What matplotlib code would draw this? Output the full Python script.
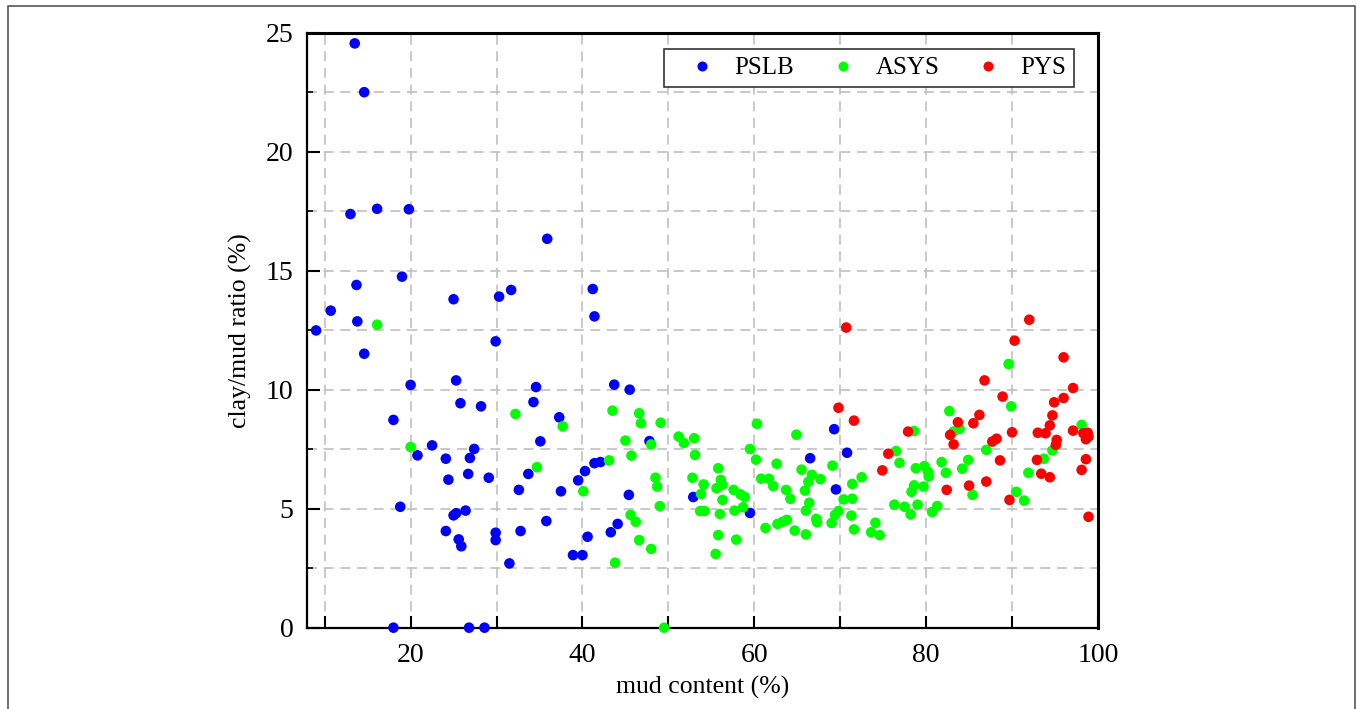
import matplotlib
matplotlib.use('Agg')
import matplotlib.pyplot as plt
from matplotlib.lines import Line2D
from matplotlib.ticker import MultipleLocator, FixedLocator, FuncFormatter

# PSLB samples (mud content %, clay/mud ratio %)
pslb_x = [13.5, 14.6, 13.0, 16.1, 19.8, 13.7, 19.0, 25.0, 10.7,
          13.8, 9.0, 14.6, 29.9, 20.0, 25.3, 25.8, 28.2, 18.0,
          22.5, 20.8, 27.4, 24.1, 26.9, 26.7, 24.4, 29.1, 18.8,
          25.0, 25.3, 26.4, 24.1, 25.6, 25.9, 29.9, 29.9, 18.0, 26.8, 28.6,
          35.9, 30.3, 31.7, 41.2, 41.4, 34.6, 43.7, 45.5, 34.3, 37.3,
          35.1, 47.8, 41.4, 42.1, 40.3, 39.5, 33.7, 32.6, 37.5, 45.4,
          35.8, 32.8, 44.1, 43.3, 40.6, 38.9, 40.0, 31.5,
          52.9, 59.5, 66.5, 69.3, 70.8, 69.5]
pslb_y = [24.55, 22.5, 17.38, 17.6, 17.58, 14.4, 14.75, 13.8, 13.32,
          12.87, 12.49, 11.51, 12.03, 10.2, 10.39, 9.43, 9.30, 8.73,
          7.66, 7.24, 7.51, 7.10, 7.13, 6.46, 6.22, 6.30, 5.08,
          4.72, 4.81, 4.92, 4.06, 3.71, 3.42, 3.99, 3.68, 0.0, 0.0, 0.0,
          16.34, 13.91, 14.19, 14.23, 13.08, 10.11, 10.21, 10.0, 9.48, 8.84,
          7.83, 7.84, 6.91, 6.96, 6.58, 6.19, 6.46, 5.79, 5.73, 5.58,
          4.48, 4.06, 4.36, 4.01, 3.82, 3.05, 3.05, 2.70,
          5.49, 4.82, 7.12, 8.34, 7.35, 5.81]

# ASYS samples
asys_x = [16.1, 20.0,
          32.2, 37.7, 43.5, 46.6, 46.8, 49.1, 45.0, 48.0, 51.2, 51.8,
          45.7, 43.1, 34.7, 40.1, 48.5, 48.7, 49.0, 45.6, 46.2, 46.6,
          48.0, 43.8, 49.5,
          53.0, 53.1, 52.8, 54.1, 53.8, 53.7, 54.2, 55.8, 56.1, 55.6,
          56.3, 56.3, 56.0, 55.8, 55.5, 57.9, 57.7, 57.6, 58.4, 58.9,
          58.7, 60.3, 59.5, 60.2, 60.8, 61.7, 62.2, 62.6, 61.3, 62.7,
          63.3, 63.8, 64.7, 66.0, 64.9, 65.5, 63.7, 64.2, 65.9, 66.3,
          66.7, 66.4, 66.0, 67.2, 67.7,
          69.1, 67.3, 69.0, 69.4, 69.8, 70.4, 71.4, 71.4, 72.5, 71.3,
          71.6, 74.1, 73.6, 74.6, 76.5, 76.9, 78.6, 78.8, 79.8, 80.2,
          80.3, 79.7, 78.6, 78.3, 76.3, 77.5, 78.2, 79.0, 80.7, 81.3,
          81.8, 82.3, 82.7,
          89.6, 89.9, 83.9, 83.2, 87.0, 94.7, 98.1, 93.7, 91.9, 84.9,
          84.2, 85.4, 90.5, 91.4]
asys_y = [12.73, 7.59,
          8.98, 8.46, 9.12, 9.01, 8.59, 8.61, 7.86, 7.70, 8.03, 7.76,
          7.23, 7.03, 6.74, 5.73, 6.30, 5.93, 5.11, 4.74, 4.45, 3.68,
          3.31, 2.73, 0.0,
          7.96, 7.26, 6.30, 6.02, 5.62, 4.90, 4.90, 6.70, 6.21, 5.86,
          6.0, 5.37, 4.78, 3.89, 3.10, 3.70, 4.92, 5.79, 5.60, 5.49,
          5.06, 8.57, 7.51, 7.06, 6.26, 6.26, 5.95, 6.89, 4.19, 4.36,
          4.45, 4.53, 4.08, 3.92, 8.11, 6.64, 5.79, 5.41, 5.76, 6.13,
          6.42, 5.25, 4.92, 4.57, 6.24,
          6.81, 4.43, 4.40, 4.74, 4.90, 5.39, 5.42, 6.04, 6.32, 4.71,
          4.13, 4.41, 4.01, 3.89, 7.42, 6.93, 8.26, 6.70, 6.79, 6.56,
          6.35, 5.93, 5.98, 5.71, 5.17, 5.08, 4.76, 5.17, 4.86, 5.11,
          6.96, 6.51, 9.10,
          11.08, 9.30, 8.36, 8.24, 7.47, 7.45, 8.52, 7.10, 6.51, 7.05,
          6.68, 5.58, 5.71, 5.34]

# PYS samples
pys_x = [70.7, 69.8, 71.6, 75.6, 74.9, 77.9, 82.4,
         92.0, 90.3, 96.0, 86.8, 97.1, 88.9, 96.0, 94.9, 94.7, 94.4,
         86.2, 85.5, 83.7, 82.8, 83.2, 90.0, 93.0, 93.9, 87.7, 88.2,
         88.6, 95.2, 95.1, 97.1, 98.3, 98.8, 98.9, 98.6, 98.6, 98.1,
         92.9, 93.4, 94.4, 85.0, 87.0, 89.7, 98.9]
pys_y = [12.61, 9.24, 8.70, 7.31, 6.61, 8.24, 5.79,
         12.94, 12.06, 11.36, 10.39, 10.07, 9.71, 9.65, 9.47, 8.92, 8.50,
         8.94, 8.59, 8.63, 8.10, 7.70, 8.21, 8.19, 8.17, 7.82, 7.94,
         7.03, 7.89, 7.68, 8.28, 8.17, 8.19, 8.03, 7.92, 7.08, 6.63,
         7.05, 6.47, 6.32, 5.97, 6.14, 5.37, 4.66]

x_ticks = [10, 20, 30, 40, 50, 60, 70, 80, 90, 100]
y_ticks = [0, 5, 10, 15, 20, 25]

plt.rcParams['font.family'] = ['Liberation Serif', 'DejaVu Serif']

fig = plt.figure(figsize=(13.57, 7.09), dpi=100)
ax = fig.add_axes([0.2266, 0.1147, 0.5825, 0.8392])

# dashed grid
for gx in x_ticks[:-1]:
    ax.axvline(gx, color='#c0c0c0', linestyle=(0, (6, 4)), linewidth=1.2, zorder=0)
for gy in [2.5, 5, 7.5, 10, 12.5, 15, 17.5, 20, 22.5]:
    ax.axhline(gy, color='#c0c0c0', linestyle=(0, (6, 4)), linewidth=1.2, zorder=0)

ax.scatter(pslb_x, pslb_y, s=58, color='#0000ff', edgecolors='none', zorder=3, clip_on=False)
ax.scatter(asys_x, asys_y, s=58, color='#00ff00', edgecolors='none', zorder=3, clip_on=False)
ax.scatter(pys_x, pys_y, s=58, color='#ff0000', edgecolors='none', zorder=3, clip_on=False)

ax.set_xlim(8, 100)
ax.set_ylim(0, 25)

ax.xaxis.set_major_locator(FixedLocator(x_ticks))
ax.xaxis.set_major_formatter(FuncFormatter(lambda v, p: '%d' % v if int(round(v)) % 20 == 0 else ''))
ax.yaxis.set_major_locator(FixedLocator(y_ticks))
ax.yaxis.set_minor_locator(MultipleLocator(2.5))

ax.tick_params(axis='both', which='major', direction='in', length=9, width=1.5,
               labelsize=20, top=False, right=False)
ax.tick_params(axis='x', which='major', pad=11)
ax.tick_params(axis='y', which='major', pad=10)
ax.tick_params(axis='y', which='minor', direction='in', length=4.5, width=1.2, right=False)

for side in ['left', 'bottom']:
    ax.spines[side].set_linewidth(1.6)
for side in ['top', 'right']:
    ax.spines[side].set_linewidth(2.2)

ax.set_xlabel('mud content (%)', fontsize=18.5, labelpad=6)
ax.set_ylabel('clay/mud ratio (%)', fontsize=18.5, labelpad=10)

handles = [Line2D([], [], marker='o', linestyle='none', markersize=7.2,
                  markerfacecolor=c, markeredgecolor='none') for c in ['#0000ff', '#00ff00', '#ff0000']]
leg = ax.legend(handles, ['PSLB', 'ASYS', 'PYS'], ncol=3, loc='upper right',
                bbox_to_anchor=(0.9696, 0.972), borderaxespad=0, fontsize=18,
                frameon=True, fancybox=False, handlelength=2.4, handletextpad=0.1,
                columnspacing=0.75, borderpad=0.3)
leg.get_frame().set_edgecolor('#333333')
leg.get_frame().set_linewidth(1.2)
leg.get_frame().set_alpha(1)

# thin border around the figure (open at the bottom)
bx0, bx1, by1 = 8 / 1357, 1355 / 1357, 1 - 6 / 709
fig.add_artist(Line2D([bx0, bx0, bx1, bx1], [0, by1, by1, 0], color='#555555',
                      linewidth=1.2, transform=fig.transFigure))

fig.savefig('out.png', dpi=100)
